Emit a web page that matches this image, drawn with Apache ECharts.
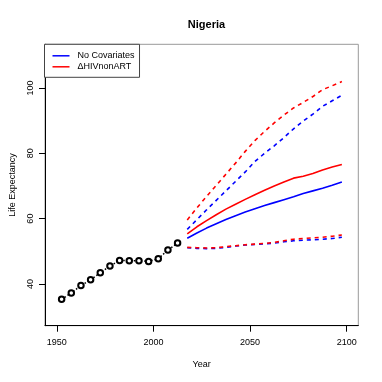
<!DOCTYPE html>
<html><head><meta charset="utf-8">
<script src="https://cdn.jsdelivr.net/npm/echarts@6/dist/echarts.min.js"></script>
<style>html,body{margin:0;padding:0;background:#fff}#c{width:382px;height:382px}</style>
</head><body><div id="c"></div>
<script>
var histYears = [1952.5,1957.5,1962.5,1967.5,1972.5,1977.5,1982.5,1987.5,1992.5,1997.5,2002.5,2007.5,2012.5];
var histValues = [35.3,37.25,39.5,41.3,43.4,45.5,47.2,47.1,47.1,46.9,47.7,50.4,52.5];
var projYears = [2017.5,2022.5,2027.5,2032.5,2037.5,2042.5,2047.5,2052.5,2057.5,2062.5,2067.5,2072.5,2077.5,2082.5,2087.5,2092.5,2097.5];
var blueMedian = [54.0,55.6,57.1,58.4,59.7,60.9,62.0,63.0,64.0,64.9,65.8,66.7,67.7,68.5,69.3,70.2,71.2];
var blueUpper  = [56.7,59.7,62.7,65.6,68.5,71.4,74.3,77.5,80.0,82.3,84.8,87.5,89.9,92.0,94.4,96.1,97.8];
var blueLower  = [51.1,50.9,50.8,50.9,51.2,51.6,51.9,52.1,52.3,52.5,52.9,53.2,53.4,53.5,53.7,53.9,54.3];
var redMedian  = [55.3,57.5,59.4,61.2,62.9,64.4,65.9,67.3,68.7,70.0,71.2,72.4,73.0,73.8,74.9,75.8,76.6];
var redUpper   = [59.6,63.3,66.8,70.2,73.6,77.0,80.6,83.9,86.7,89.3,91.7,93.9,95.6,97.4,99.5,100.7,102.0];
var redLower   = [51.2,51.1,51.0,51.1,51.4,51.7,52.0,52.2,52.4,52.7,53.2,53.7,53.9,54.1,54.3,54.6,55.0];
var xTicks = [1950,2000,2050,2100];
var yTicks = [40,60,80,100];
var legendNames = ['No Covariates','\u0394HIVnonART'];

function pairs(xs, ys){ return xs.map(function(x,i){ return [x, ys[i]]; }); }
var BLUE = '#0000FF', RED = '#FF0000';
var font = 'Liberation Sans, Arial, Helvetica, sans-serif';
function proj(name, data, color, dashed){
  return {type:'line', name:name, data:pairs(projYears,data), symbol:'none', silent:true,
    lineStyle:{color:color, width:1.6, type: dashed ? [4,4] : 'solid'}, itemStyle:{color:color}, z:3};
}
var chart = echarts.init(document.getElementById('c'), null, {renderer:'canvas'});
chart.setOption({
  animation:false,
  backgroundColor:'#fff',
  title:{text:'Nigeria', left:201.5, textAlign:'center', top:14,
    textStyle:{fontFamily:font, fontSize:11, fontWeight:'bold', color:'#000'}},
  grid:{left:44.5, right:23.7, top:44.3, bottom:56.3, show:true, borderColor:'#999', borderWidth:1, backgroundColor:'transparent'},
  legend:{data:legendNames, orient:'vertical', left:44.5, top:44.3, icon:'rect', itemWidth:17, itemHeight:1.5,
    itemGap:2, padding:[7,5,6,8], borderColor:'#444', borderWidth:1, borderRadius:0, backgroundColor:'#fff',
    textStyle:{fontFamily:font, fontSize:9, color:'#000', padding:[0,0,0,3]}},
  xAxis:{type:'value', min:1943.9, max:2106, name:'Year', nameLocation:'middle', nameGap:34,
    nameTextStyle:{fontFamily:font, fontSize:9, color:'#000'},
    axisLine:{show:true, onZero:false, lineStyle:{color:'#000', width:1}},
    axisTick:{show:true, length:6, customValues:xTicks, lineStyle:{color:'#000'}},
    axisLabel:{customValues:xTicks, margin:12, fontFamily:font, fontSize:9, color:'#000',
      formatter:function(v){ return String(v); }},
    splitLine:{show:false}},
  yAxis:{type:'value', min:27.2, max:113.4, name:'Life Expectancy', nameLocation:'middle', nameGap:28,
    nameTextStyle:{fontFamily:font, fontSize:9, color:'#000'},
    axisLine:{show:true, onZero:false, lineStyle:{color:'#000', width:1}},
    axisTick:{show:true, length:6, customValues:yTicks, lineStyle:{color:'#000'}},
    axisLabel:{customValues:yTicks, rotate:90, margin:10, fontFamily:font, fontSize:9, color:'#000',
      formatter:function(v){ return String(v); }},
    splitLine:{show:false}},
  series:[
    {type:'line', name:'hist', data:pairs(histYears,histValues), symbol:'emptyCircle', symbolSize:5.5,
      itemStyle:{color:'#000', borderColor:'#000', borderWidth:1.3},
      lineStyle:{color:'#000', width:1.5, type:[1.5,2]}, z:4},
    proj(legendNames[0], blueMedian, BLUE, false),
    proj('bU', blueUpper, BLUE, true),
    proj('bL', blueLower, BLUE, true),
    proj(legendNames[1], redMedian, RED, false),
    proj('rU', redUpper, RED, true),
    proj('rL', redLower, RED, true)
  ]
});
</script></body></html>
